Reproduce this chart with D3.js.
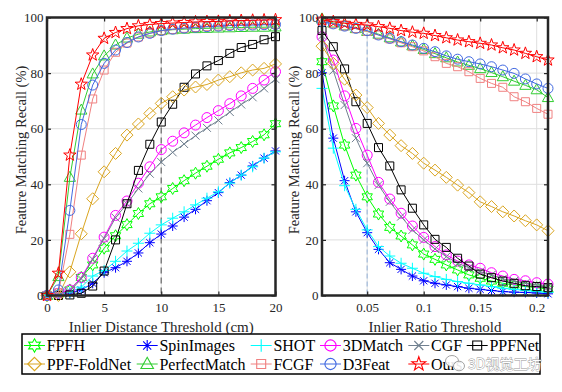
<!DOCTYPE html>
<html><head><meta charset="utf-8">
<script src="https://cdn.jsdelivr.net/npm/d3@7"></script>
<style>body{margin:0;background:#fff}svg{display:block}
svg text{font-family:"Liberation Serif","Tinos","Times New Roman","DejaVu Serif",serif}</style>
</head><body>
<svg id="c" width="562" height="392"></svg>
<script>
// ---------- data ----------
const methods = ["FPFH","SpinImages","SHOT","3DMatch","CGF","PPFNet","PPF-FoldNet","PerfectMatch","FCGF","D3Feat","Ours"];
const colors  = ["#00ff00","#0000ff","#00ffff","#ff00ff","#708090","#000000","#daa520","#32cd32","#f08080","#4169e1","#ff0000"];
const markers = ["hexagram","asterisk","plus","circle","cross","square","diamond","triangle","square","circle","pentagram"];

const distThresholds  = [0,1,2,3,4,5,6,7,8,9,10,11,12,13,14,15,16,17,18,19,20];
const ratioThresholds = [0.01,0.02,0.03,0.04,0.05,0.06,0.07,0.08,0.09,0.10,0.11,0.12,0.13,0.14,0.15,0.16,0.17,0.18,0.19,0.20,0.21];
const distTicks  = [0,5,10,15,20];
const ratioTicks = [0.05,0.1,0.15,0.2];
const recallTicks = [0,20,40,60,80,100];

// recall vs inlier distance threshold (cm)
const distFPFH        = [0,0.5,2,6.5,11,17,21.5,25.5,29.5,33,35.5,38.5,41.3,44,46.5,49,51.3,53.2,55.4,57.8,61.8];
const distSpinImages  = [0,0.3,0.8,2,4.4,8.2,10,12.3,15.3,19,22.1,25,28.2,31,34.1,37,40.6,43.3,46.6,49.4,52];
const distSHOT        = [0,0.5,1.2,3,7,9,12.3,16,18.8,22.4,25.4,27.8,30.1,32.6,35,37.3,40.4,43.3,46.3,49.4,51.7];
const dist3DMatch     = [0,0.8,2,6.5,13.4,21,28.8,34,40.4,46.3,52.5,55.5,58.5,61.3,64,66.5,69,71.8,74.5,77.5,80.5];
const distCGF         = [0,0.5,1.5,6,13,20.5,28,33,38.5,43.8,48,51.5,54.5,57.5,60.3,63,66,68.7,71.3,74.5,77.8];
const distPPFNet      = [0,0,0.2,0.8,3.4,8.8,20,33,45,54.4,62.4,68.8,74.9,79.7,82.6,84.5,87.1,89.2,90.3,92,93.1];
const distPPFFoldNet  = [0,0,8.5,22.2,34.8,44.5,51.1,57.7,61.7,65.5,69.1,71.5,73.9,75,75.9,77.5,78.7,80.1,81.1,81.7,83.3];
const distPerfectMatch= [0,6.8,42.5,66.7,79.7,86.2,90.1,92.6,94,94.8,95.3,95.6,95.8,96,96.1,96.2,96.3,96.4,96.5,96.5,96.6];
const distFCGF        = [0,1,22,50.5,70.7,81.1,87.5,90.8,93,94.3,95.2,95.7,96.1,96.4,96.7,96.9,97.1,97.3,97.4,97.5,97.6];
const distD3Feat      = [0,2,30.6,61.5,75.7,83.5,88.3,91,93,94.3,95.3,95.8,96.2,96.5,96.7,96.9,97.1,97.2,97.3,97.4,97.5];
const distOurs        = [0,8,50.5,76,86.5,92.5,94.6,96,97,97.5,97.8,98,98.2,98.4,98.5,98.6,98.8,98.9,99,99.1,99.2];

// recall vs inlier ratio threshold
const ratioFPFH        = [84.1,68.2,54.1,43.3,35.5,29.3,24.5,21.4,18.2,14.9,13,11,9.2,7.4,6.2,5.2,4.4,3.8,3.2,2.8,2.3];
const ratioSpinImages  = [80.1,56.6,41.3,30.1,22.6,16.6,11.8,9.4,7,5.3,4.4,3.8,3.2,2.6,2.2,1.8,1.4,1.2,1.1,0.9,0.6];
const ratioSHOT        = [74.5,53,39.5,31,23.6,17.6,14.2,11.6,9.8,8,6.8,5.8,5,4.4,3.8,3.2,2.6,2.2,1.8,1.4,1.1];
const ratio3DMatch     = [93.1,84.7,71.8,60.1,50.5,40.7,34.7,29.6,25,20.9,17.6,14.6,12.4,11,9.8,8.2,7,5.8,5.3,4.6,4.1];
const ratioCGF         = [93.5,80.9,68.5,56.6,47.6,39.7,33.7,28.4,23.6,20,16.7,14,11.6,10,8.6,7.4,6,5.2,4.4,3.8,3.2];
const ratioPPFNet      = [95.3,89.5,81.5,69.7,61.9,53.2,46.6,38,31.4,25.4,20.2,17.3,13.4,10.6,7.7,6.4,5.2,4.4,3.5,3.2,2.8];
const ratioPPFFoldNet  = [89.7,83.5,77.8,72.1,67.6,61.9,57.7,53.9,51.1,47.6,45.1,42.5,39.7,37,33.7,32,30.1,28.6,26.9,25.4,23.3];
const ratioPerfectMatch= [99.5,98,97,96,95,94,92.7,91.2,89.8,88.5,87,85.5,84,82.8,81.6,80.2,78.7,77.1,75.6,74,71.2];
const ratioFCGF        = [98.8,97.7,96.9,96,95,93.7,92.3,90.9,89.5,88,85.9,83.5,82.3,80.5,78.1,76.3,74.9,71.5,69.7,67.3,65.2];
const ratioD3Feat      = [98.5,97.7,96.9,96.1,95.3,93.7,92.5,91.3,90.1,88.9,87.7,86.2,85,84.1,83.3,82.3,81.1,79.9,77.9,76.1,74.5];
const ratioOurs        = [99.1,98.5,97.9,97.5,97.3,96.7,96.1,95.3,94.7,94.3,93.5,92.7,91.9,91.3,90.7,90.1,89.1,88.3,87.1,85.9,84.7];

const distSeries  = [distFPFH,distSpinImages,distSHOT,dist3DMatch,distCGF,distPPFNet,distPPFFoldNet,distPerfectMatch,distFCGF,distD3Feat,distOurs];
const ratioSeries = [ratioFPFH,ratioSpinImages,ratioSHOT,ratio3DMatch,ratioCGF,ratioPPFNet,ratioPPFFoldNet,ratioPerfectMatch,ratioFCGF,ratioD3Feat,ratioOurs];

const yLabel = "Feature Matching Recall (%)";
const xLabelLeft = "Inlier Distance Threshold (cm)";
const xLabelRight = "Inlier Ratio Threshold";

// ---------- drawing ----------
const svg = d3.select("#c");
const FONT = "Liberation Serif, Tinos, Times New Roman, DejaVu Serif, serif";
const AX = "#262626";

function starPath(n, ro, ri){
  let p = [];
  for (let k=0;k<2*n;k++){
    const r = k%2===0?ro:ri;
    const a = -Math.PI/2 + k*Math.PI/n;
    p.push([r*Math.cos(a), r*Math.sin(a)]);
  }
  return "M"+p.map(q=>q[0].toFixed(2)+","+q[1].toFixed(2)).join("L")+"Z";
}
function markerPath(t){
  switch(t){
    case "circle": return "M5,0A5,5 0 1,1 -5,0A5,5 0 1,1 5,0Z";
    case "square": return "M-4,-4H4V4H-4Z";
    case "diamond": return "M0,-6L6,0L0,6L-6,0Z";
    case "triangle": return "M0,-6L5.6,4L-5.6,4Z";
    case "pentagram": return starPath(5,6.5,2.6);
    case "hexagram": return starPath(6,6,3.4);
    case "asterisk": return "M-5,0H5M0,-5V5M-3.6,-3.6L3.6,3.6M-3.6,3.6L3.6,-3.6";
    case "plus": return "M-5.5,0H5.5M0,-5.5V5.5";
    case "cross": return "M-4,-4L4,4M-4,4L4,-4";
  }
}

const yTop = 17.5, yBot = 295.5;

function panel(xs, xDomain, xRange, xTicks, series, dashX, dashColor, dashArr, xLabel, yLabelX){
  const x = d3.scaleLinear().domain(xDomain).range(xRange);
  const y = d3.scaleLinear().domain([0,100]).range([yBot,yTop]);
  const g = svg.append("g");
  g.append("g").selectAll("line").data(xTicks).join("line")
    .attr("x1",d=>x(d)).attr("x2",d=>x(d)).attr("y1",yTop).attr("y2",yBot)
    .attr("stroke","#dedede").attr("stroke-width",1);
  g.append("g").selectAll("line").data(recallTicks).join("line")
    .attr("y1",d=>y(d)).attr("y2",d=>y(d)).attr("x1",xRange[0]).attr("x2",xRange[1])
    .attr("stroke","#dedede").attr("stroke-width",1);
  g.append("line").attr("x1",x(dashX)).attr("x2",x(dashX)).attr("y1",yTop).attr("y2",yBot)
    .attr("stroke",dashColor).attr("stroke-width",1.5).attr("stroke-dasharray",dashArr);
  const line = d3.line().x((d,i)=>x(xs[i])).y(d=>y(d));
  series.forEach((s,k)=>{
    const sg = g.append("g");
    sg.append("path").attr("d",line(s)).attr("fill","none").attr("stroke",colors[k]).attr("stroke-width",1);
    sg.selectAll("path.m").data(s).join("path").attr("class","m")
      .attr("transform",(d,i)=>`translate(${x(xs[i])},${y(d)})`)
      .attr("d",markerPath(markers[k])).attr("fill","none").attr("stroke",colors[k]).attr("stroke-width",1);
  });
  const fmt = d3.format("~g");
  const ax = g.append("g").attr("transform",`translate(0,${yBot})`)
    .call(d3.axisBottom(x).tickValues(xTicks).tickSize(-4).tickPadding(7).tickFormat(fmt));
  const at = g.append("g").attr("transform",`translate(0,${yTop})`)
    .call(d3.axisTop(x).tickValues(xTicks).tickSize(-4).tickFormat(""));
  const ay = g.append("g").attr("transform",`translate(${xRange[0]},0)`)
    .call(d3.axisLeft(y).tickValues(recallTicks).tickSize(-4).tickPadding(3.5));
  const ar = g.append("g").attr("transform",`translate(${xRange[1]},0)`)
    .call(d3.axisRight(y).tickValues(recallTicks).tickSize(-4).tickFormat(""));
  [ax,at,ay,ar].forEach(a=>{
    a.attr("font-family",FONT).attr("font-size",13);
    a.select(".domain").remove();
    a.selectAll(".tick line").attr("stroke",AX).attr("stroke-width",1.2);
    a.selectAll(".tick text").attr("fill",AX).attr("font-family",FONT).attr("font-size",13);
  });
  g.append("rect").attr("x",xRange[0]).attr("y",yTop).attr("width",xRange[1]-xRange[0]).attr("height",yBot-yTop)
    .attr("fill","none").attr("stroke",AX).attr("stroke-width",2.5);
  g.append("text").attr("x",(xRange[0]+xRange[1])/2).attr("y",332).attr("text-anchor","middle")
    .attr("font-family",FONT).attr("font-size",15).attr("fill",AX).text(xLabel);
  g.append("text").attr("transform",`translate(${yLabelX},150) rotate(-90)`).attr("text-anchor","middle")
    .attr("font-family",FONT).attr("font-size",14.5).attr("fill",AX).text(yLabel);
}

panel(distThresholds,[0,20],[47,275.5],distTicks,distSeries,10,"#808080","6,4",xLabelLeft,26);
panel(ratioThresholds,[0.01,0.21],[322,548],ratioTicks,ratioSeries,0.05,"#b0c4de","5,3",xLabelRight,299);

// ---------- legend ----------
const lg = svg.append("g");
lg.append("rect").attr("x",22).attr("y",334).attr("width",518).attr("height",40)
  .attr("fill","#fff").attr("stroke","#000").attr("stroke-width",1.5);
const colStarts = [24,136.7,250.7,320,408.3,466.7];
const rowY = [345.5,364];
methods.forEach((m,i)=>{
  const r = Math.floor(i/6), c = i%6;
  const x0 = colStarts[c], yy = rowY[r];
  const e = lg.append("g");
  e.append("line").attr("x1",x0).attr("x2",x0+21).attr("y1",yy).attr("y2",yy).attr("stroke",colors[i]).attr("stroke-width",1);
  e.append("path").attr("transform",`translate(${x0+10.5},${yy}) scale(1.12)`).attr("d",markerPath(markers[i]))
    .attr("fill","none").attr("stroke",colors[i]).attr("stroke-width",1);
  e.append("text").attr("x",x0+22.7).attr("y",yy+5.5).attr("font-family",FONT).attr("font-size",16)
    .attr("fill","#000").text(m);
});

// ---------- watermark ----------
const wm = svg.append("g").attr("opacity",0.9);
wm.append("ellipse").attr("cx",452).attr("cy",361).attr("rx",6.5).attr("ry",5.5).attr("fill","#fff").attr("stroke","#9a9a9a").attr("stroke-width",1);
wm.append("ellipse").attr("cx",459).attr("cy",366).attr("rx",5.5).attr("ry",4.8).attr("fill","#fff").attr("stroke","#9a9a9a").attr("stroke-width",1);
wm.append("text").attr("x",468).attr("y",369).style("font-family","'Noto Sans CJK SC',sans-serif").style("font-size","14px")
  .attr("fill","#fff").attr("stroke","#8a8a8a").attr("stroke-width",0.8).style("paint-order","stroke").text("3D视觉工坊");
</script>
</body></html>
